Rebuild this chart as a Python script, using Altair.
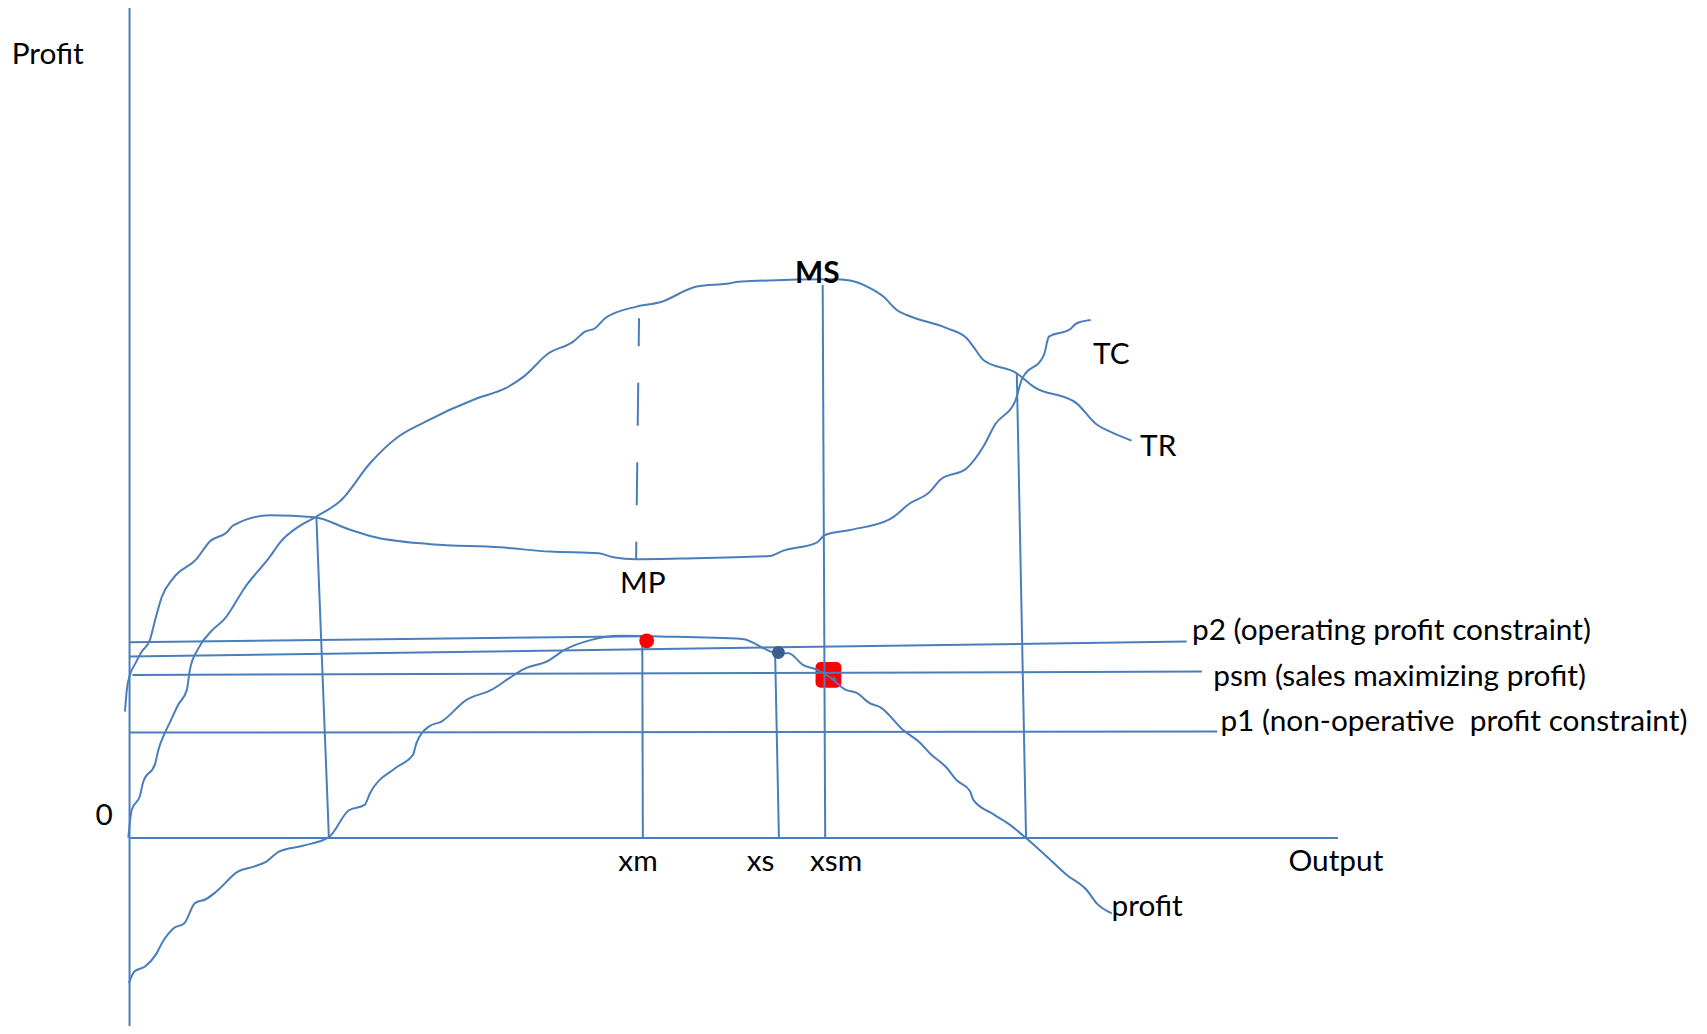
import altair as alt
import pandas as pd

# Units: X = output, Y = money (arbitrary units; origin at "0")
TC_X = [-4.2, -2.6, 0.4, 5, 11.1, 18.8, 23.4, 29.5, 40.2, 61.7, 73.9, 89.2, 95.3, 129, 170, 201.2,
        220.9, 276.7, 340.3, 386.2, 430.9, 444.4, 465.3, 505.6, 588.3, 600.5, 631.2, 638.8, 661.8,
        698.5, 716.9, 735.3, 744.5, 769, 784.3, 795, 813.4, 819.5, 840, 844.5, 863.9, 870, 882.9]
TC_Y = [116.2, 135.6, 150.1, 159.8, 171.1, 182.4, 200, 221.1, 238.9, 256.6, 272.7, 280.7, 287.2,
        296.6, 294.8, 283.8, 277.6, 270, 267.1, 263.2, 261.7, 258, 256.2, 256.8, 259.2, 264.1,
        271.5, 278.5, 283.1, 293, 307.6, 318.3, 329.1, 339.8, 359.7, 380, 401, 420.9, 444, 460.7,
        467.5, 473, 476]

TR_X = [-1.1, 2, 9.6, 12.6, 23.4, 26.4, 32.6, 37.2, 44.8, 52.5, 55.5, 63.2, 75.5, 87.7, 95.3,
        104.4, 129, 138.9, 155.3, 171.6, 194.6, 220.9, 247.1, 270.1, 319.3, 345.5, 362, 384.9,
        407.6, 418.4, 427.6, 436.8, 465.8, 487.3, 521, 551.6, 559.2, 646.5, 661.8, 680.2, 692.4,
        704.7, 713.9, 750.6, 769, 775.1, 784.3, 815, 830.2, 870, 887, 903.7, 920.5]
TR_Y = [0.3, 26, 38.9, 51.8, 68, 80.8, 97, 106.6, 122.7, 135.7, 155, 174.3, 190.5, 201.8, 213.1,
        228, 258.6, 272.4, 286.2, 295.4, 310.7, 344.4, 368.9, 381.7, 404.1, 413.3, 424, 445.4,
        456.1, 465.3, 468.4, 477.6, 488.3, 492.3, 506.7, 509.7, 511.2, 513.4, 512.2, 505.2, 497.5,
        485.2, 480.6, 468.6, 459.2, 451.5, 439.3, 427, 414.8, 399.4, 381.1, 372, 365.2]

PROFIT_X = [-0.6, 4.4, 14.2, 24, 30.6, 40.5, 50.3, 60.1, 70, 79.8, 99.5, 114.3, 125.7, 137.2,
            158.5, 183.1, 201.2, 215.9, 220.9, 243.9, 260.3, 263.5, 275, 286.5, 309.4, 332.4,
            348.8, 362, 384.9, 399.6, 424.3, 450.5, 487.3, 562.7, 595.6, 605.4, 618.5, 631.6,
            643, 657.9, 667.9, 680.2, 689.4, 710.8, 726.1, 735.3, 750.6, 759.8, 772, 775.1, 793.4,
            808.8, 823.5, 842.5, 860.9, 879.2, 888.4, 902.2]
PROFIT_Y = [-133.4, -122.6, -118, -107.3, -95, -82.8, -78.2, -59.8, -56.2, -49.1, -30.8, -26.2,
            -21.6, -12.4, -7.2, 0.8, 25.3, 30.5, 41.2, 64.2, 76.4, 87.2, 102.5, 107.1, 127, 136.1,
            146.9, 155.2, 163.1, 172.9, 182.1, 185.8, 185.2, 183, 169.9, 169.9, 159.1, 154.5, 148,
            136.2, 133.5, 123.7, 120.4, 99.1, 87.6, 77.7, 64.6, 53.1, 43.3, 35.1, 22, 12.1, 0,
            -17, -33.9, -47.7, -60, -69.1]

# Straight segments: axes, profit levels and drop lines
SEG_NAME = ["y_axis", "x_axis", "max_profit", "p2", "psm", "p1",
            "break_even_1", "xm", "xs", "xsm", "break_even_2"]
SEG_X1 = [0, 0, 0, 0, 2.7, 0, 171.6, 471, 593, 636.7, 815]
SEG_Y1 = [763, 0, 180, 166.8, 149.9, 96.9, 295.4, 182, 170, 508.2, 427]
SEG_X2 = [0, 1110, 475, 971, 985, 999, 183.1, 471.5, 596.5, 639, 823.5]
SEG_Y2 = [-180, 0, 185.5, 180.5, 153, 97.9, 0.7, 0, 0, 0, 0]

# Dashed drop from TR down to MP
DASH_X1 = [468]
DASH_Y1 = [477.6]
DASH_X2 = [465.3]
DASH_Y2 = [256.2]

# Marked points
PT_NAME = ["xm", "xs", "xsm"]
PT_X = [475, 596, 642]
PT_Y = [181.2, 170.5, 150]
TRI_X = [647.1]
TRI_Y = [146.9]

# Labels
LABELS = ["Profit", "MP", "TC", "TR", "p2 (operating profit constraint)",
          "psm (sales maximizing profit)", "p1 (non-operative \u00a0profit constraint)",
          "xm", "xs", "xsm", "Output", "profit"]
LABEL_X = [-108.3, 450.5, 885, 928.2, 975.9, 995.4, 1002, 449, 566.9, 625, 1064.5, 902]
LABEL_Y = [710.9, 225, 435.6, 351.1, 182.1, 139.8, 98.8, -30.7, -30.7, -30.7, -29.8, -72]
ZERO_LABEL = ["0"]
ZERO_X = [-15.5]
ZERO_Y = [11.6]
BOLD_LABEL = ["MS"]
BOLD_X = [611.3]
BOLD_Y = [510]

BLUE = "#4a7ebb"
FONT = "Lato"
FS = 29.8

xs = alt.Scale(domain=[-111.65, 1441.65], nice=False, zero=False)
ys = alt.Scale(domain=[-172.65, 762.65], nice=False, zero=False)

curves = pd.concat([
    pd.DataFrame({"curve": "TC", "X": TC_X, "Y": TC_Y, "i": range(len(TC_X))}),
    pd.DataFrame({"curve": "TR", "X": TR_X, "Y": TR_Y, "i": range(len(TR_X))}),
    pd.DataFrame({"curve": "profit", "X": PROFIT_X, "Y": PROFIT_Y, "i": range(len(PROFIT_X))}),
])
segs = pd.DataFrame({"name": SEG_NAME, "X1": SEG_X1, "Y1": SEG_Y1, "X2": SEG_X2, "Y2": SEG_Y2})
dash = pd.DataFrame({"X1": DASH_X1, "Y1": DASH_Y1, "X2": DASH_X2, "Y2": DASH_Y2})
pts = pd.DataFrame({"name": PT_NAME, "X": PT_X, "Y": PT_Y})
tri = pd.DataFrame({"X": TRI_X, "Y": TRI_Y})
labels = pd.DataFrame({"t": LABELS, "X": LABEL_X, "Y": LABEL_Y})
zero = pd.DataFrame({"t": ZERO_LABEL, "X": ZERO_X, "Y": ZERO_Y})
bold = pd.DataFrame({"t": BOLD_LABEL, "X": BOLD_X, "Y": BOLD_Y})

X = lambda f: alt.X(f, type="quantitative", scale=xs, axis=None)
Y = lambda f: alt.Y(f, type="quantitative", scale=ys, axis=None)

blob = alt.Chart(pts[pts["name"] == "xsm"]).mark_point(
    shape="square", size=250, filled=True, color="#ff0000", stroke="#ff0000",
    strokeWidth=10, strokeJoin="round", opacity=1
).encode(x=X("X"), y=Y("Y"))

blob_tri = alt.Chart(tri).mark_point(
    shape="triangle-up", size=28, filled=True, color=BLUE, opacity=1
).encode(x=X("X"), y=Y("Y"))

lines = alt.Chart(curves).mark_line(color=BLUE, strokeWidth=2, interpolate="monotone").encode(
    x=X("X"), y=Y("Y"), detail="curve:N", order="i:Q")

rules = alt.Chart(segs).mark_rule(color=BLUE, strokeWidth=2).encode(
    x=X("X1"), y=Y("Y1"), x2="X2", y2="Y2")

dashed = alt.Chart(dash).mark_rule(color=BLUE, strokeWidth=2, strokeDash=[43, 36.5],
                                   strokeDashOffset=15).encode(
    x=X("X1"), y=Y("Y1"), x2="X2", y2="Y2")

xm_dot = alt.Chart(pts[pts["name"] == "xm"]).mark_point(
    shape="circle", size=220, filled=True, color="#ff0000", opacity=1
).encode(x=X("X"), y=Y("Y"))

xs_dot = alt.Chart(pts[pts["name"] == "xs"]).mark_point(
    shape="circle", size=170, filled=True, color="#3a5f8e", opacity=1
).encode(x=X("X"), y=Y("Y"))

text = alt.Chart(labels).mark_text(font=FONT, fontSize=FS, align="left", baseline="alphabetic",
                                   color="black").encode(x=X("X"), y=Y("Y"), text="t:N")
ztext = alt.Chart(zero).mark_text(font=FONT, fontSize=FS, align="right", baseline="alphabetic",
                                  color="black").encode(x=X("X"), y=Y("Y"), text="t:N")
btext = alt.Chart(bold).mark_text(font=FONT, fontSize=FS, fontWeight="bold", align="left",
                                  baseline="alphabetic", color="black").encode(
    x=X("X"), y=Y("Y"), text="t:N")

chart = alt.layer(blob, blob_tri, lines, rules, dashed, xm_dot, xs_dot, text, ztext, btext).properties(
    width=1691, height=1018, padding=0, autosize="none", background="white"
).configure_view(stroke=None)

chart.save("out.html", embed_options={"renderer": "svg", "actions": False})
